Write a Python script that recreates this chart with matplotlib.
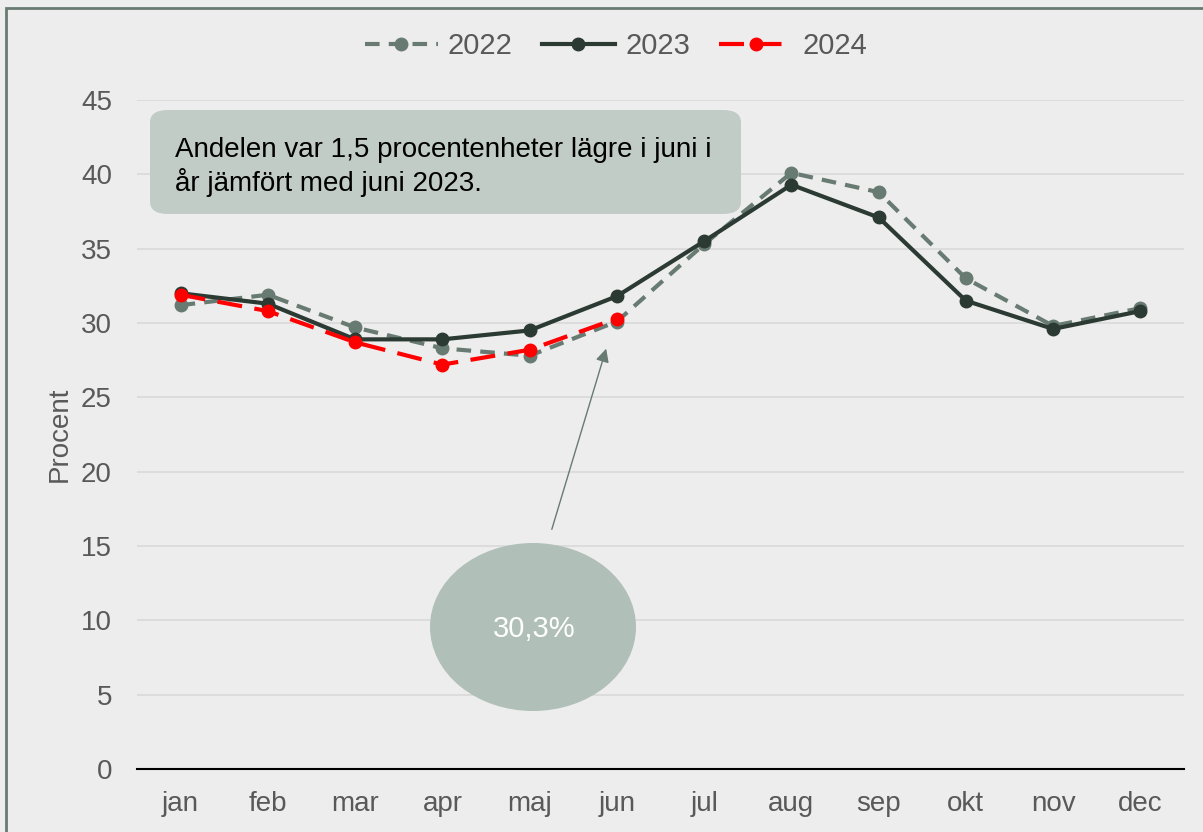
import matplotlib
matplotlib.use("Agg")
import matplotlib.pyplot as plt
from matplotlib.patches import FancyBboxPatch, Ellipse, Rectangle

plt.rcParams['font.family'] = ['Liberation Sans', 'DejaVu Sans']

# data
months = ['jan', 'feb', 'mar', 'apr', 'maj', 'jun', 'jul', 'aug', 'sep', 'okt', 'nov', 'dec']
v2022 = [31.2, 31.9, 29.7, 28.3, 27.8, 30.1, 35.3, 40.1, 38.8, 33.0, 29.8, 31.0]
v2023 = [32.0, 31.3, 28.9, 28.9, 29.5, 31.8, 35.5, 39.3, 37.1, 31.5, 29.6, 30.8]
v2024 = [31.9, 30.8, 28.7, 27.2, 28.2, 30.3]
yticks = [0, 5, 10, 15, 20, 25, 30, 35, 40, 45]

bg = '#ededed'
c22 = '#687b72'
c23 = '#2b3a33'
c24 = '#ff0000'
txt = '#595959'

fig = plt.figure(figsize=(12.03, 8.32), dpi=100, facecolor=bg)
ax = fig.add_axes([137/1203, 1 - 769/832, (1184 - 137)/1203, (769 - 100)/832])
ax.set_facecolor(bg)

# ram runt diagrammet (höger och nederkant ligger utanför bilden)
fig.patches.append(Rectangle((6/1203, -0.1), 1.2, 1 - 8/832 + 0.1, transform=fig.transFigure,
                             fill=False, edgecolor=c22, linewidth=2, zorder=0))

x = list(range(len(months)))
ax.plot(x, v2022, color=c22, lw=3, marker='o', ms=9, dashes=(3.5, 2.2), label='2022', zorder=3)
ax.plot(x, v2023, color=c23, lw=3, marker='o', ms=9, label='2023', zorder=4)
ax.plot(x[:len(v2024)], v2024, color=c24, lw=3, marker='o', ms=9, dashes=(6, 3), label='2024', zorder=5)

ax.set_xlim(-0.5, 11.5)
ax.set_ylim(0, 45)
ax.set_yticks(yticks)
ax.set_xticks(x)
ax.set_xticklabels(months)
ax.tick_params(axis='both', length=0, labelsize=20, labelcolor=txt)
ax.tick_params(axis='x', pad=16)
ax.tick_params(axis='y', pad=18)
ax.grid(axis='y', color='#d9d9d9', lw=1.2)
ax.set_axisbelow(True)
for s in ['top', 'right', 'left']:
    ax.spines[s].set_visible(False)
ax.spines['bottom'].set_color('black')
ax.spines['bottom'].set_linewidth(1.5)
ax.set_ylabel('Procent', fontsize=20, color=txt, labelpad=6)

leg = fig.legend(loc='center', bbox_to_anchor=(0.512, 1 - 46/832), ncol=3, frameon=False,
                 fontsize=21, handlelength=2.5, columnspacing=1.0, handletextpad=0.35)
for t in leg.get_texts():
    t.set_color(txt)

# textruta
box = FancyBboxPatch((150/1203, 1 - 214/832), (741 - 150)/1203, (214 - 110)/832,
                     boxstyle='round,pad=0,rounding_size=0.015', transform=fig.transFigure,
                     facecolor='#c2ccc6', edgecolor='none', zorder=6)
fig.patches.append(box)
fig.text(175/1203, 1 - 167/832, 'Andelen var 1,5 procentenheter lägre i juni i\når jämfört med juni 2023.',
         fontsize=20, color='black', va='center', ha='left', linespacing=1.2, zorder=7)

# ellips med pil
ell = Ellipse((533/1203, 1 - 627/832), 206/1203, 168/832, transform=fig.transFigure,
              facecolor='#b0bfb7', edgecolor='none', zorder=6)
fig.patches.append(ell)
fig.text(534/1203, 1 - 629/832, '30,3%', fontsize=21, color='white', ha='center', va='center', zorder=7)
ax.annotate('', xy=(607/1203, 1 - 346/832), xytext=(551/1203, 1 - 532/832),
            xycoords='figure fraction', textcoords='figure fraction',
            arrowprops=dict(arrowstyle='-|>', color=c22, lw=1, mutation_scale=20))

fig.savefig('out.png', dpi=100, facecolor=bg)
